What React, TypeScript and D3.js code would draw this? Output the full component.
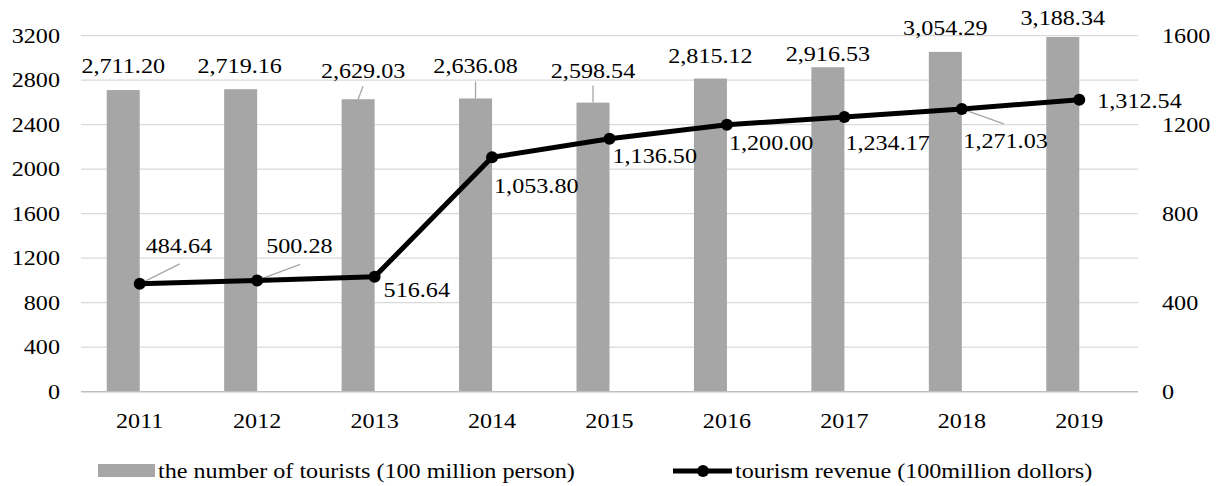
import React from "react";
import * as d3 from "d3";

const years = ["2011", "2012", "2013", "2014", "2015", "2016", "2017", "2018", "2019"];
const tourists = [2711.2, 2719.16, 2629.03, 2636.08, 2598.54, 2815.12, 2916.53, 3054.29, 3188.34];
const revenue = [484.64, 500.28, 516.64, 1053.8, 1136.5, 1200.0, 1234.17, 1271.03, 1312.54];
const leftTicks = [0, 400, 800, 1200, 1600, 2000, 2400, 2800, 3200];
const rightTicks = [0, 400, 800, 1200, 1600];
const legendBar = "the number of tourists (100 million person)";
const legendLine = "tourism revenue (100million dollors)";

// label placement offsets (styling): [dx, dy, leader?]
const barLabelOffsets: [number, number, boolean][] = [
  [0, -17, false], [-1, -16, false], [5, -21, true], [0, -25, true], [0, -25, true],
  [0, -16, false], [0, -6, false], [0, -17, false], [0, -12, false],
];
const lineLabelOffsets: [number, number, number, number][] = [
  // dx, dy (baseline), leader end dx, leader end dy (relative to marker; 0 = none)
  [6, -31, 40, -20], [9, -27, 43, -16], [9, 20, 0, 0], [2, 36, 0, 0], [3, 24, 0, 0],
  [2, 25, 0, 0], [1, 33, 0, 0], [1.5, 39, 42, 15], [18, 8, 0, 0],
];

const W = 1217, H = 486;
const FONT = "'Liberation Serif', 'Times New Roman', serif";
const SX = 1.15;
const FS = 21;

const fmt = d3.format(",.2f");

function T({ x, y, anchor = "middle", children }: any) {
  return (
    <text
      transform={`translate(${x},${y}) scale(${SX},1)`}
      textAnchor={anchor}
      fontFamily={FONT}
      fontSize={FS}
      fill="#000"
    >
      {children}
    </text>
  );
}

export default function App() {
  const x = d3.scaleBand<string>().domain(years).range([81, 1138]).padding(0);
  const yL = d3.scaleLinear().domain([0, 3200]).range([391.7, 35.7]);
  const yR = d3.scaleLinear().domain([0, 1600]).range([391.7, 35.7]);
  const cx = (i: number) => (x(years[i]) as number) + x.bandwidth() / 2;
  const barW = 33;

  const line = d3
    .line<number>()
    .x((_, i) => cx(i))
    .y((d) => yR(d));

  return (
    <svg width={W} height={H} style={{ position: "absolute", left: 0, top: 0 }}>
      <rect width={W} height={H} fill="#fff" />
      {leftTicks.map((t) =>
        t === 0 ? null : (
          <line key={t} x1={81} x2={1138} y1={yL(t)} y2={yL(t)} stroke="#d9d9d9" strokeWidth={1.3} />
        )
      )}
      {tourists.map((v, i) => (
        <rect key={i} x={cx(i) - barW} y={yL(v)} width={barW} height={yL(0) - yL(v)} fill="#a6a6a6" />
      ))}
      <line x1={81} x2={1138} y1={yL(0)} y2={yL(0)} stroke="#bfbfbf" strokeWidth={1.5} />

      {tourists.map((v, i) => {
        const [dx, dy, lead] = barLabelOffsets[i];
        if (!lead) return null;
        const bx = cx(i) - barW / 2;
        return (
          <line key={i} x1={bx + dx} y1={yL(v) + dy + 8} x2={bx} y2={yL(v)} stroke="#a6a6a6" strokeWidth={1.3} />
        );
      })}
      {revenue.map((v, i) => {
        const [, , lx, ly] = lineLabelOffsets[i];
        if (!lx && !ly) return null;
        return (
          <line key={i} x1={cx(i)} y1={yR(v)} x2={cx(i) + lx} y2={yR(v) + ly} stroke="#a6a6a6" strokeWidth={1.3} />
        );
      })}

      <path d={line(revenue) as string} fill="none" stroke="#000" strokeWidth={5} strokeLinejoin="round" />
      {revenue.map((v, i) => (
        <circle key={i} cx={cx(i)} cy={yR(v)} r={6} fill="#000" />
      ))}

      {tourists.map((v, i) => {
        const [dx, dy] = barLabelOffsets[i];
        return (
          <T key={i} x={cx(i) - barW / 2 + dx} y={yL(v) + dy}>
            {fmt(v)}
          </T>
        );
      })}
      {revenue.map((v, i) => {
        const [dx, dy] = lineLabelOffsets[i];
        return (
          <T key={i} x={cx(i) + dx} y={yR(v) + dy} anchor="start">
            {fmt(v)}
          </T>
        );
      })}

      {leftTicks.map((t) => (
        <T key={t} x={60} y={yL(t) + 7} anchor="end">
          {String(t)}
        </T>
      ))}
      {rightTicks.map((t) => (
        <T key={t} x={1162} y={yR(t) + 7} anchor="start">
          {String(t)}
        </T>
      ))}
      {years.map((yv, i) => (
        <T key={yv} x={cx(i)} y={428}>
          {yv}
        </T>
      ))}

      <rect x={98} y={464} width={57} height={13} fill="#a6a6a6" />
      <T x={158} y={478} anchor="start">
        {legendBar}
      </T>
      <line x1={673} x2={732} y1={471} y2={471} stroke="#000" strokeWidth={5} />
      <circle cx={703} cy={471} r={6} fill="#000" />
      <T x={735} y={478} anchor="start">
        {legendLine}
      </T>
    </svg>
  );
}
